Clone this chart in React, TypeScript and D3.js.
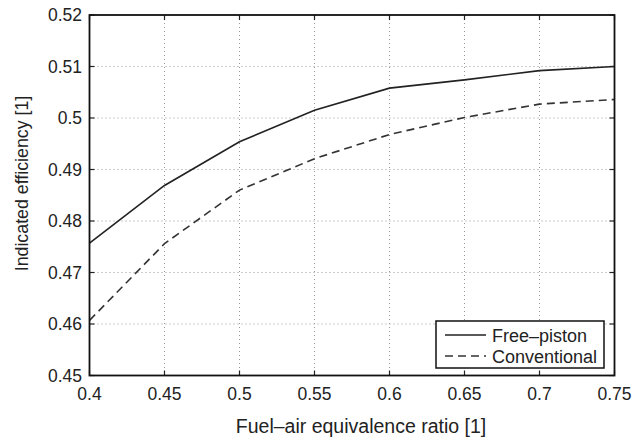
import React from "react";
import * as d3 from "d3";

const ratios = [0.4, 0.45, 0.5, 0.55, 0.6, 0.65, 0.7, 0.75];
const freePiston = [0.4757, 0.4869, 0.4954, 0.5015, 0.5058, 0.5074, 0.5092, 0.51];
const conventional = [0.4607, 0.4756, 0.486, 0.4921, 0.4968, 0.5001, 0.5027, 0.5036];
const xTicks = [0.4, 0.45, 0.5, 0.55, 0.6, 0.65, 0.7, 0.75];
const yTicks = [0.45, 0.46, 0.47, 0.48, 0.49, 0.5, 0.51, 0.52];
const seriesNames = ["Free\u2013piston", "Conventional"];
const xTitle = "Fuel\u2013air equivalence ratio [1]";
const yTitle = "Indicated efficiency [1]";

const W = 635, H = 441;
const L = 89.5, R = 614.5, T = 15, B = 375.5;
const FONT = "'Liberation Sans', Arial, Helvetica, sans-serif";

export default function App() {
  const x = d3.scaleLinear().domain([0.4, 0.75]).range([L, R]);
  const y = d3.scaleLinear().domain([0.45, 0.52]).range([B, T]);
  const line = d3.line<number>().x((_, i) => x(ratios[i])).y((d) => y(d));
  const fmt = (v: number) => String(+v.toFixed(2));
  const tickLen = 5;
  return (
    <svg width={W} height={H} style={{ position: "absolute", left: 0, top: 0, background: "#fff" }}>
      <rect x={0} y={0} width={W} height={H} fill="#fff" />
      {/* grid */}
      {xTicks.slice(1, -1).map((t) => (
        <line key={"gx" + t} x1={x(t)} x2={x(t)} y1={T} y2={B} stroke="#999" strokeWidth={1} strokeDasharray="1,3" />
      ))}
      {yTicks.slice(1, -1).map((t) => (
        <line key={"gy" + t} x1={L} x2={R} y1={y(t)} y2={y(t)} stroke="#999" strokeWidth={1} strokeDasharray="1,3" />
      ))}
      {/* ticks */}
      {xTicks.map((t) => (
        <g key={"tx" + t} stroke="#222" strokeWidth={1.2}>
          <line x1={x(t)} x2={x(t)} y1={B} y2={B - tickLen} />
          <line x1={x(t)} x2={x(t)} y1={T} y2={T + tickLen} />
        </g>
      ))}
      {yTicks.map((t) => (
        <g key={"ty" + t} stroke="#222" strokeWidth={1.2}>
          <line x1={L} x2={L + tickLen} y1={y(t)} y2={y(t)} />
          <line x1={R} x2={R - tickLen} y1={y(t)} y2={y(t)} />
        </g>
      ))}
      {/* series */}
      <path d={line(freePiston) || ""} fill="none" stroke="#222" strokeWidth={1.6} />
      <path d={line(conventional) || ""} fill="none" stroke="#333" strokeWidth={1.6} strokeDasharray="8,5" />
      {/* frame */}
      <rect x={L} y={T} width={R - L} height={B - T} fill="none" stroke="#111" strokeWidth={1.8} />
      {/* tick labels */}
      {xTicks.map((t) => (
        <text key={"lx" + t} x={x(t)} y={399.5} textAnchor="middle" fontFamily={FONT} fontSize={17.5} fill="#222">
          {fmt(t)}
        </text>
      ))}
      {yTicks.map((t) => (
        <text key={"ly" + t} x={82} y={y(t) + 6.3} textAnchor="end" fontFamily={FONT} fontSize={17.5} fill="#222">
          {fmt(t)}
        </text>
      ))}
      {/* axis titles */}
      <text x={361} y={433} textAnchor="middle" fontFamily={FONT} fontSize={19.5} fill="#222">
        {xTitle}
      </text>
      <text transform={`translate(28,183.5) rotate(-90)`} textAnchor="middle" fontFamily={FONT} fontSize={17.8} fill="#222">
        {yTitle}
      </text>
      {/* legend */}
      <rect x={436} y={321} width={168} height={47} fill="#fff" stroke="#111" strokeWidth={1.5} />
      <line x1={445} x2={486} y1={335} y2={335} stroke="#222" strokeWidth={1.6} />
      <line x1={445} x2={486} y1={356} y2={356} stroke="#333" strokeWidth={1.6} strokeDasharray="8,5" />
      <text x={492} y={341.5} fontFamily={FONT} fontSize={18} fill="#222">{seriesNames[0]}</text>
      <text x={492} y={362.5} fontFamily={FONT} fontSize={18} fill="#222">{seriesNames[1]}</text>
    </svg>
  );
}
